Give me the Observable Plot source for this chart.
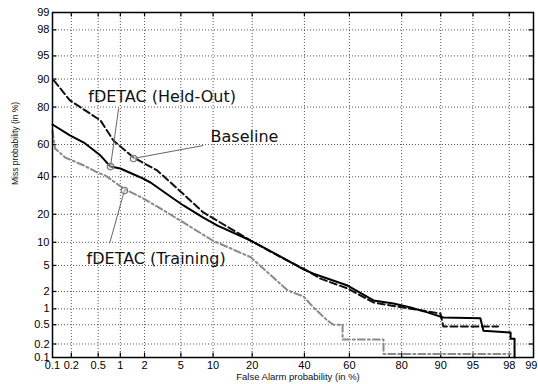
<!DOCTYPE html>
<html>
<head>
<meta charset="utf-8">
<script src="https://cdn.jsdelivr.net/npm/d3@7"></script>
<script src="https://cdn.jsdelivr.net/npm/@observablehq/plot@0.6"></script>
<style>
  html, body { margin: 0; padding: 0; background: #fff; }
  #chart svg { display: block; }
</style>
</head>
<body>
<div id="chart"></div>
<script>
// ---- data (percent) ----
const tickValues = [0.1, 0.2, 0.5, 1, 2, 5, 10, 20, 40, 60, 80, 90, 95, 98, 99];

const heldOutFA   = [0.1, 0.19, 0.31, 0.54, 0.74, 1.0, 1.8, 2.35, 3.9, 5.3, 8.2, 10.9, 19.5, 30.1, 39.6, 44.0, 59.2, 70.0, 77.3, 82.7, 87.1, 90.5, 95.8, 96.1, 98.07, 98.07, 98.27, 98.27];
const heldOutMiss = [71.5, 65.4, 61.2, 53.2, 46.3, 45.1, 39.6, 36.6, 28.7, 24.1, 18.6, 15.4, 10.5, 6.6, 4.4, 3.8, 2.5, 1.41, 1.25, 1.06, 0.86, 0.69, 0.67, 0.38, 0.35, 0.26, 0.26, 0.1];

const baselineFA   = [0.105, 0.135, 0.19, 0.54, 0.81, 1.47, 2.8, 4.96, 8.2, 13.9, 19.5, 30.1, 39.6, 47.1, 59.2, 70.0, 76.3, 89.95, 90.5, 97.3];
const baselineMiss = [89.6, 87.1, 82.8, 73.6, 62.4, 52.0, 43.9, 31.4, 20.8, 14.3, 10.5, 6.5, 4.5, 3.2, 2.24, 1.3, 1.15, 0.82, 0.46, 0.46];

const trainingFA   = [0.1, 0.11, 0.16, 0.31, 0.49, 0.63, 1.1, 1.95, 3.6, 5.3, 9.9, 19.5, 27.4, 32.9, 39.6, 44.0, 50.3, 53.0, 57.0, 57.0, 73.8, 73.8, 98.07];
const trainingMiss = [68.2, 57.6, 52.0, 47.0, 42.6, 40.8, 33.1, 27.6, 20.8, 16.6, 10.5, 6.5, 3.3, 2.08, 1.65, 1.06, 0.6, 0.5, 0.5, 0.25, 0.25, 0.12, 0.12];

const labelNames = ["fDETAC (Held-Out)", "Baseline", "fDETAC (Training)"];
const labelFA    = [0.36, 9.5, 0.34];
const labelMiss  = [84.3, 64.8, 6.2];
const leaderFromFA   = [0.95, 8.2, 0.72];
const leaderFromMiss = [79.4, 59.4, 9.7];
const leaderToFA     = [0.74, 1.47, 1.13];
const leaderToMiss   = [46.3, 51.4, 32.0];

// ---- probit (inverse normal CDF, Acklam) ----
function probit(p) {
  const a = [-3.969683028665376e+01, 2.209460984245205e+02, -2.759285104469687e+02, 1.383577518672690e+02, -3.066479806614716e+01, 2.506628277459239e+00];
  const b = [-5.447609879822406e+01, 1.615858368580409e+02, -1.556989798598866e+02, 6.680131188771972e+01, -1.328068155288572e+01];
  const c = [-7.784894002430293e-03, -3.223964580411365e-01, -2.400758277161838e+00, -2.549732539343734e+00, 4.374664141464968e+00, 2.938163982698783e+00];
  const d = [7.784695709041462e-03, 3.224671290700398e-01, 2.445134137142996e+00, 3.754408661907416e+00];
  const pl = 0.02425, ph = 1 - pl;
  let q, r;
  if (p < pl) {
    q = Math.sqrt(-2 * Math.log(p));
    return (((((c[0]*q+c[1])*q+c[2])*q+c[3])*q+c[4])*q+c[5]) / ((((d[0]*q+d[1])*q+d[2])*q+d[3])*q+1);
  }
  if (p <= ph) {
    q = p - 0.5; r = q * q;
    return (((((a[0]*r+a[1])*r+a[2])*r+a[3])*r+a[4])*r+a[5])*q / (((((b[0]*r+b[1])*r+b[2])*r+b[3])*r+b[4])*r+1);
  }
  q = Math.sqrt(-2 * Math.log(1 - p));
  return -(((((c[0]*q+c[1])*q+c[2])*q+c[3])*q+c[4])*q+c[5]) / ((((d[0]*q+d[1])*q+d[2])*q+d[3])*q+1);
}
const z = v => probit(v / 100);

const toRows = (fa, miss) => fa.map((f, i) => ({x: z(f), y: z(miss[i])}));
const heldOut = toRows(heldOutFA, heldOutMiss);
const baseline = toRows(baselineFA, baselineMiss);
const training = toRows(trainingFA, trainingMiss);

const ticksZ = tickValues.map(z);
const tickLabel = new Map(tickValues.map(t => [z(t), String(t)]));
const lo = z(0.1), hi = z(99);
const innerTicks = ticksZ.filter(t => t > lo + 1e-9 && t < hi - 1e-9);
const xTicksZ = ticksZ.slice(0, -1);
const lastX = [hi];

const labels = labelNames.map((n, i) => ({text: n, x: z(labelFA[i]), y: z(labelMiss[i])}));
const leaders = labelNames.map((n, i) => ({
  x1: z(leaderFromFA[i]), y1: z(leaderFromMiss[i]),
  x2: z(leaderToFA[i]), y2: z(leaderToMiss[i])
}));

const tx = 0.05, ty = 0.07; // inward tick lengths in z units
const gridStyle = {stroke: "#222", strokeWidth: 0.9, strokeDasharray: "1,2", strokeOpacity: 0.85};

const chart = Plot.plot({
  width: 538,
  height: 384,
  marginLeft: 52,
  marginRight: 5,
  marginTop: 12,
  marginBottom: 27,
  style: {fontFamily: "'Liberation Sans', Arial, sans-serif", fontSize: "11px", background: "#fff", color: "#000"},
  x: {type: "linear", domain: [lo, hi], ticks: xTicksZ, tickFormat: d => tickLabel.get(d), tickSize: 0, tickPadding: 4, label: null},
  y: {type: "linear", domain: [lo, hi], ticks: ticksZ, tickFormat: d => tickLabel.get(d), tickSize: 0, tickPadding: 3, label: null},
  marks: [
    Plot.ruleX(innerTicks, {x: d => d, ...gridStyle}),
    Plot.ruleY(innerTicks, {y: d => d, ...gridStyle}),
    // inward tick marks
    Plot.ruleX(innerTicks, {x: d => d, y1: lo, y2: lo + ty, stroke: "#000", strokeWidth: 1.2}),
    Plot.ruleX(innerTicks, {x: d => d, y1: hi, y2: hi - ty, stroke: "#000", strokeWidth: 1.2}),
    Plot.ruleY(innerTicks, {y: d => d, x1: lo, x2: lo + tx, stroke: "#000", strokeWidth: 1.2}),
    Plot.ruleY(innerTicks, {y: d => d, x1: hi, x2: hi - tx, stroke: "#000", strokeWidth: 1.2}),
    // curves
    Plot.line(training, {x: "x", y: "y", stroke: "#8a8a8a", strokeWidth: 2, strokeDasharray: "7,3,2,3"}),
    Plot.line(baseline, {x: "x", y: "y", stroke: "#111", strokeWidth: 2, strokeDasharray: "7,3.5"}),
    Plot.line(heldOut, {x: "x", y: "y", stroke: "#000", strokeWidth: 2}),
    // annotations
    Plot.link(leaders, {x1: "x1", y1: "y1", x2: "x2", y2: "y2", stroke: "#666", strokeWidth: 1}),
    Plot.dot(leaders, {x: "x2", y: "y2", r: 3.2, stroke: "#777", strokeWidth: 1.2, fill: "#ddd", fillOpacity: 0.4}),
    Plot.text(labels, {x: "x", y: "y", text: "text", textAnchor: "start", lineAnchor: "middle", fontSize: 16, fontFamily: "'DejaVu Sans', sans-serif", fill: "#111"}),
    // last x tick label, kept inside the page edge
    Plot.text(lastX, {x: d => d, frameAnchor: "bottom", dy: 4, dx: 4, lineAnchor: "top", textAnchor: "end", text: d => tickLabel.get(d), fontSize: 11, fill: "#000"}),
    // axis titles
    Plot.text(["False Alarm probability (in %)"], {frameAnchor: "bottom", dy: 22, dx: 5, fontSize: 9.5, fill: "#111"}),
    Plot.text(["Miss probability (in %)"], {frameAnchor: "left", dx: -37, rotate: -90, fontSize: 8.5, fill: "#111"}),
    Plot.frame({stroke: "#000", strokeWidth: 1.5})
  ]
});
document.getElementById("chart").appendChild(chart);
</script>
</body>
</html>
